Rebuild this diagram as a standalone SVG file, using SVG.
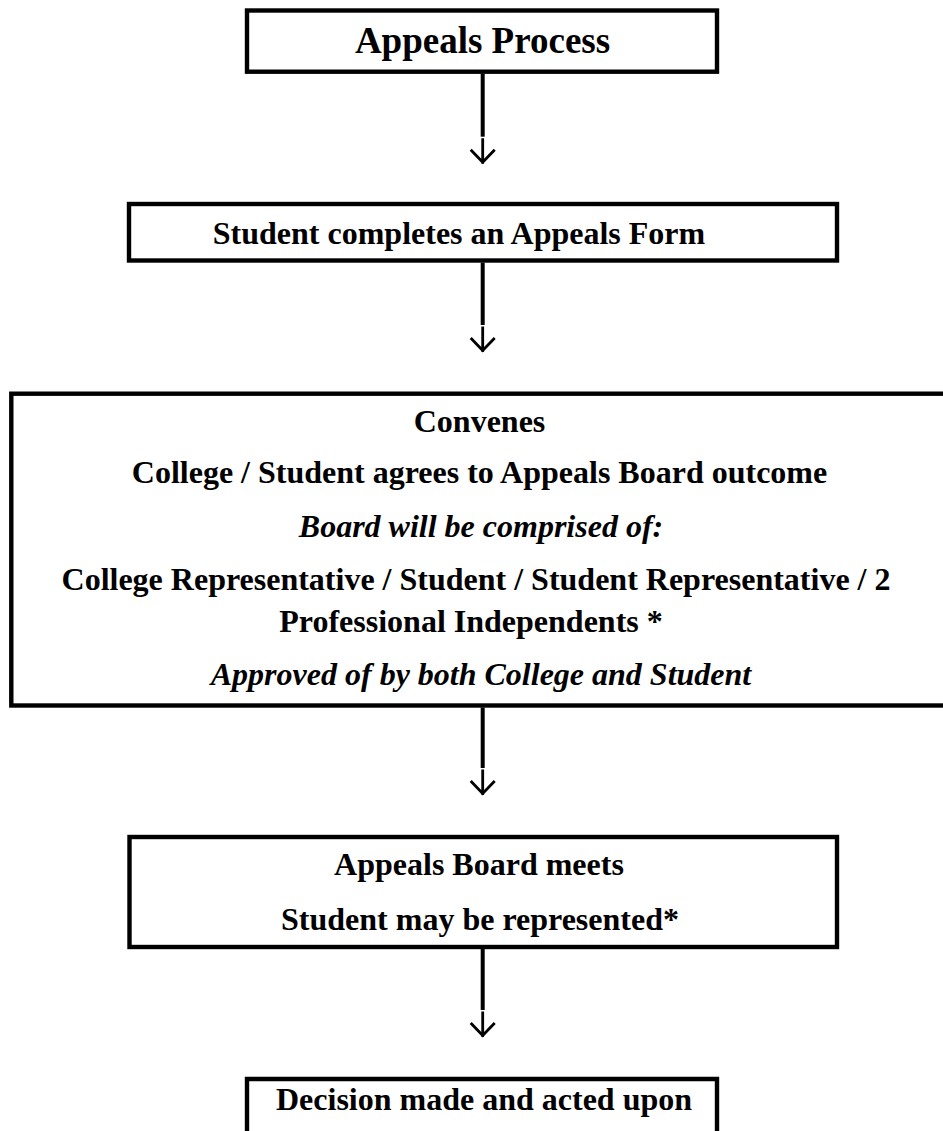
<svg xmlns="http://www.w3.org/2000/svg" width="943" height="1131" viewBox="0 0 943 1131">
<style>
.box{fill:none;stroke:#000;stroke-width:4.4}
.t{font-family:"Liberation Serif","Times New Roman",serif;font-weight:bold;font-size:32px;fill:#000;text-anchor:middle}
.i{font-style:italic}
.ln{stroke:#000;stroke-width:4;fill:none}
.ah{stroke:#000;stroke-width:2.8;fill:none}
</style>
<defs>
<path id="arr" d="M0,1.5 V27 M-12,13 L0,25.5 L12,13"/>
</defs>
<rect width="943" height="1131" fill="#fff"/>
<g id="n1">
<rect class="box" x="247" y="10.5" width="470" height="61.2"/>
<text class="t" x="482.5" y="53.3" style="font-size:37px">Appeals Process</text>
</g>
<g id="n2">
<rect class="box" x="129" y="204" width="708" height="56.5"/>
<text class="t" x="459" y="244">Student completes an Appeals Form</text>
</g>
<g id="n3">
<rect class="box" x="11.3" y="393.7" width="945" height="311.8"/>
<text class="t" x="479.5" y="431.7">Convenes</text>
<text class="t" x="479.5" y="483.3">College / Student agrees to Appeals Board outcome</text>
<text class="t i" x="481" y="536.7">Board will be comprised of:</text>
<text class="t" x="476" y="590">College Representative / Student / Student Representative / 2</text>
<text class="t" x="471" y="631.7">Professional Independents *</text>
<text class="t i" x="481" y="685">Approved of by both College and Student</text>
</g>
<g id="n4">
<rect class="box" x="129.5" y="837" width="707.5" height="110"/>
<text class="t" x="479" y="875">Appeals Board meets</text>
<text class="t" x="480" y="930">Student may be represented*</text>
</g>
<g id="n5">
<path class="box" d="M247,1140 V1079 H717 V1140"/>
<text class="t" x="484" y="1110">Decision made and acted upon</text>
</g>
<g id="connectors">
<line class="ln" x1="482.7" y1="73.7" x2="482.7" y2="136.7"/>
<use class="ah" href="#arr" x="482.7" y="136.7"/>
<line class="ln" x1="482.7" y1="262.5" x2="482.7" y2="325"/>
<use class="ah" href="#arr" x="482.7" y="325"/>
<line class="ln" x1="482.7" y1="707.5" x2="482.7" y2="768"/>
<use class="ah" href="#arr" x="482.7" y="768"/>
<line class="ln" x1="482.7" y1="949" x2="482.7" y2="1010"/>
<use class="ah" href="#arr" x="482.7" y="1010"/>
</g>
</svg>
